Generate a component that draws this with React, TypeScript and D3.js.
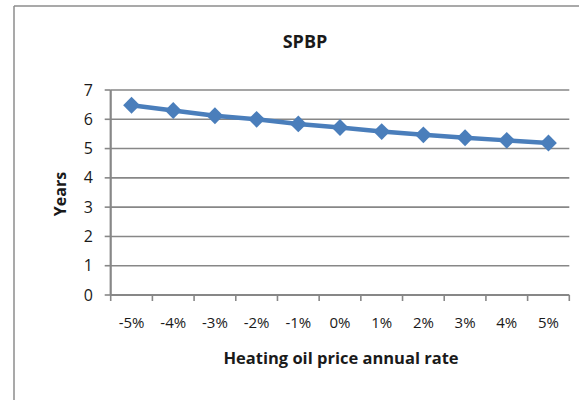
import React from "react";
import * as d3 from "d3";

const categories = ["-5%", "-4%", "-3%", "-2%", "-1%", "0%", "1%", "2%", "3%", "4%", "5%"];
const spbpYears = [6.48, 6.3, 6.12, 6.0, 5.84, 5.72, 5.58, 5.47, 5.37, 5.28, 5.19];
const yTicks = [0, 1, 2, 3, 4, 5, 6, 7];
const chartTitle = "SPBP";
const xTitle = "Heating oil price annual rate";
const yTitle = "Years";

const W = 579;
const H = 400;
const left = 110.7;
const right = 569.3;
const top = 90;
const bottom = 295;
const FONT = "'Open Sans', 'Noto Sans', sans-serif";
const GRID = "#878787";
const BLUE = "#4a7ebb";

export default function App() {
  const x = d3.scaleBand<string>().domain(categories).range([left, right]);
  const y = d3.scaleLinear().domain([0, 7]).range([bottom, top]);
  const cx = (c: string) => (x(c) as number) + x.bandwidth() / 2;
  const line = d3
    .line<number>()
    .x((_, i) => cx(categories[i]))
    .y((d) => y(d));
  const diamond = d3.symbol().type(d3.symbolDiamond2).size(180)();
  const xTickPos = categories.map((c) => x(c) as number).concat([right]);

  return (
    <svg
      width={W}
      height={H}
      style={{ position: "absolute", left: 0, top: 0, display: "block", background: "#fff" }}
    >
      <rect x={0} y={0} width={W} height={H} fill="#fff" />
      {/* chart border */}
      <line x1={14} x2={W} y1={6} y2={6} stroke="#8c8c8c" strokeWidth={1.5} />
      <line x1={14} x2={14} y1={6} y2={H} stroke="#8c8c8c" strokeWidth={1.5} />

      <text x={305} y={48} textAnchor="middle" fontFamily={FONT} fontWeight="bold" fontSize={18} fill="#1a1a1a">
        {chartTitle}
      </text>

      {/* gridlines */}
      {yTicks.map((t) => (
        <g key={t}>
          {t > 0 && (
            <line x1={left} x2={right} y1={y(t)} y2={y(t)} stroke={GRID} strokeWidth={1.6} />
          )}
          <line x1={left - 6} x2={left} y1={y(t)} y2={y(t)} stroke={GRID} strokeWidth={1.6} />
          <text
            x={93}
            y={y(t)}
            dy="0.35em"
            textAnchor="end"
            fontFamily={FONT}
            fontSize={16}
            fill="#1a1a1a"
          >
            {t}
          </text>
        </g>
      ))}

      {/* axes */}
      <line x1={left} x2={left} y1={top} y2={bottom} stroke={GRID} strokeWidth={2.2} />
      <line x1={left} x2={right} y1={bottom} y2={bottom} stroke={GRID} strokeWidth={2.2} />
      {xTickPos.map((p, i) => (
        <line key={i} x1={p} x2={p} y1={bottom} y2={bottom + 6} stroke={GRID} strokeWidth={1.6} />
      ))}
      {categories.map((c) => (
        <text
          key={c}
          x={cx(c)}
          y={328}
          textAnchor="middle"
          fontFamily={FONT}
          fontSize={15}
          fill="#1a1a1a"
        >
          {c}
        </text>
      ))}

      <text x={341} y={364} textAnchor="middle" fontFamily={FONT} fontWeight="bold" fontSize={16.5} fill="#1a1a1a">
        {xTitle}
      </text>
      <text
        transform="translate(66,194) rotate(-90)"
        textAnchor="middle"
        fontFamily={FONT}
        fontWeight="bold"
        fontSize={16}
        fill="#1a1a1a"
      >
        {yTitle}
      </text>

      {/* series */}
      <path d={line(spbpYears) as string} fill="none" stroke={BLUE} strokeWidth={4.5} strokeLinejoin="round" />
      {spbpYears.map((v, i) => (
        <path
          key={i}
          d={diamond as string}
          transform={`translate(${cx(categories[i])},${y(v)})`}
          fill={BLUE}
        />
      ))}
    </svg>
  );
}
